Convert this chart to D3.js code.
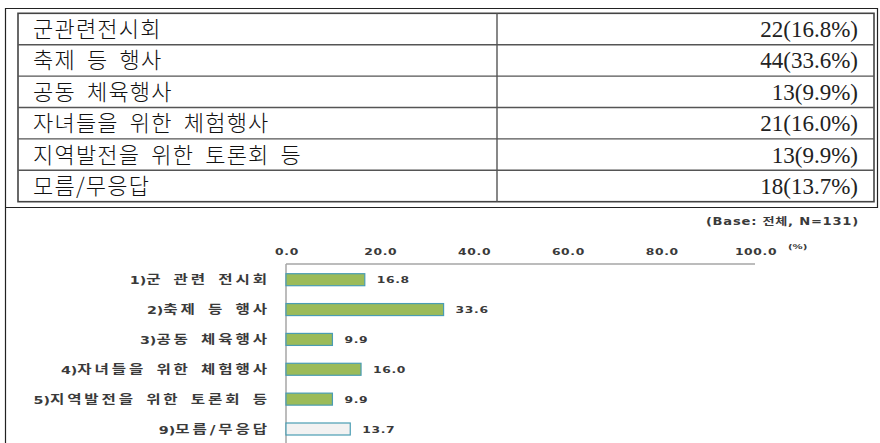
<!DOCTYPE html>
<html>
<head>
<meta charset="utf-8">
<script src="https://cdn.jsdelivr.net/npm/d3@7"></script>
<style>
  body { margin: 0; background: #fff; }
</style>
</head>
<body>
<svg id="chart"></svg>
<script>
// table rows (top part)
const tableLabels = ["군관련전시회", "축제 등 행사", "공동 체육행사", "자녀들을 위한 체험행사", "지역발전을 위한 토론회 등", "모름/무응답"];
const counts = [22, 44, 13, 21, 13, 18];
const percents = [16.8, 33.6, 9.9, 16.0, 9.9, 13.7];

// bar chart (bottom part)
const chartPrefixes = ["1)", "2)", "3)", "4)", "5)", "9)"];
const chartLabels = ["군 관련 전시회", "축제 등 행사", "공동 체육행사", "자녀들을 위한 체험행사", "지역발전을 위한 토론회 등", "모름/무응답"];
const tickValues = [0, 20, 40, 60, 80, 100];
const baseNote = "(Base: 전체, N=131)";

const width = 880, height = 443;
const svg = d3.select("#chart").attr("width", width).attr("height", height);

svg.append("rect").attr("width", width).attr("height", height).attr("fill", "#fff");

// outer frame
svg.append("path")
   .attr("d", "M5.5,443 V8.5 H877.5 V207.5 H5.5")
   .attr("fill", "none")
   .attr("stroke", "#222")
   .attr("stroke-width", 1.2);

// ---- table ----
const tableLeft = 18, tableRight = 874, colSplit = 497;
const rowY = d3.scaleBand()
               .domain(tableLabels)
               .range([13.3, 201.7]);

const table = svg.append("g").attr("class", "table");

table.append("rect")
     .attr("x", tableLeft).attr("y", 13.3)
     .attr("width", tableRight - tableLeft).attr("height", 201.7 - 13.3)
     .attr("fill", "none").attr("stroke", "#444").attr("stroke-width", 1.6);

table.selectAll("line.row")
     .data(tableLabels.slice(1))
     .enter().append("line")
     .attr("class", "row")
     .attr("x1", tableLeft).attr("x2", tableRight)
     .attr("y1", d => rowY(d)).attr("y2", d => rowY(d))
     .attr("stroke", "#555").attr("stroke-width", 1.4);

table.append("line")
     .attr("x1", colSplit).attr("x2", colSplit)
     .attr("y1", 13.3).attr("y2", 201.7)
     .attr("stroke", "#555").attr("stroke-width", 1.4);

table.selectAll("text.name")
     .data(tableLabels)
     .enter().append("text")
     .attr("class", "name")
     .attr("x", 33)
     .attr("y", d => rowY(d) + rowY.bandwidth() / 2 + 8)
     .attr("font-family", "'Noto Sans CJK KR', sans-serif")
     .attr("font-size", 22)
     .attr("font-weight", 300)
     .attr("letter-spacing", "1.2px")
     .attr("word-spacing", "5px")
     .attr("fill", "#111")
     .text(d => d);

table.selectAll("text.count")
     .data(tableLabels)
     .enter().append("text")
     .attr("class", "count")
     .attr("x", 858)
     .attr("y", d => rowY(d) + rowY.bandwidth() / 2 + 8)
     .attr("text-anchor", "end")
     .attr("font-family", "'Liberation Serif', serif")
     .attr("font-size", 23)
     .attr("fill", "#222")
     .text((d, i) => `${counts[i]}(${percents[i].toFixed(1)}%)`);

// ---- bar chart ----
// the chart image in the reference is stretched sideways, so text gets scaleX
const stretch = 1.3;
const x = d3.scaleLinear().domain([0, 100]).range([286, 755]);
const y = d3.scalePoint().domain(chartLabels).range([279.7, 429]);
const barHeight = 12;

const labelFont = "'DejaVu Sans', 'Noto Sans CJK KR', sans-serif";

function stretched(sel, sx) {
    return sel.attr("font-family", labelFont)
              .attr("font-weight", "bold")
              .attr("fill", "#3a3a3a")
              .attr("transform", function() {
                  const tx = +this.getAttribute("data-x"), ty = +this.getAttribute("data-y");
                  return `translate(${tx},${ty}) scale(${sx},1)`;
              });
}

stretched(svg.append("text")
   .attr("data-x", 859).attr("data-y", 225)
   .attr("text-anchor", "end")
   .attr("font-size", 10.5)
   .attr("letter-spacing", "0.6px")
   .text(baseNote), 1.25);

// tick labels along the top
stretched(svg.selectAll("text.tick")
   .data(tickValues)
   .enter().append("text")
   .attr("class", "tick")
   .attr("data-x", d => x(d) + 1)
   .attr("data-y", 255)
   .attr("text-anchor", "middle")
   .attr("font-size", 9.5)
   .attr("letter-spacing", "0.5px")
   .text(d => d.toFixed(1)), stretch);

stretched(svg.append("text")
   .attr("data-x", x(100) + 33).attr("data-y", 249)
   .attr("font-size", 7.5)
   .text("(%)"), 1.35);

// axis lines
svg.append("line")
   .attr("x1", x(0)).attr("x2", x(100))
   .attr("y1", 264).attr("y2", 264)
   .attr("stroke", "#a6a6a6").attr("stroke-width", 1.5);
svg.append("line")
   .attr("x1", x(0)).attr("x2", x(0))
   .attr("y1", 264).attr("y2", height)
   .attr("stroke", "#a6a6a6").attr("stroke-width", 1.5);

// bars
svg.selectAll("rect.bar")
   .data(chartLabels)
   .enter().append("rect")
   .attr("class", "bar")
   .attr("x", x(0))
   .attr("y", d => y(d) - barHeight / 2)
   .attr("width", (d, i) => x(percents[i]) - x(0))
   .attr("height", barHeight)
   .attr("fill", (d, i) => i === chartLabels.length - 1 ? "#f2f2f2" : "#9bbb59")
   .attr("stroke", "#4a9db3")
   .attr("stroke-width", 1.2);

// value labels
stretched(svg.selectAll("text.value")
   .data(chartLabels)
   .enter().append("text")
   .attr("class", "value")
   .attr("data-x", (d, i) => x(percents[i]) + 12)
   .attr("data-y", d => y(d) + 3.5)
   .attr("font-size", 9.5)
   .attr("letter-spacing", "0.5px")
   .text((d, i) => percents[i].toFixed(1)), stretch);

// category labels
const cats = stretched(svg.selectAll("text.cat")
   .data(chartLabels)
   .enter().append("text")
   .attr("class", "cat")
   .attr("data-x", 267 + 2.2 * stretch)
   .attr("data-y", d => y(d) + 4.5)
   .attr("text-anchor", "end")
   .attr("font-size", 12), stretch);

cats.append("tspan")
    .attr("font-size", 11)
    .text((d, i) => chartPrefixes[i]);
cats.append("tspan")
    .attr("letter-spacing", "2.2px")
    .attr("word-spacing", "1.5px")
    .text(d => d);
</script>
</body>
</html>
